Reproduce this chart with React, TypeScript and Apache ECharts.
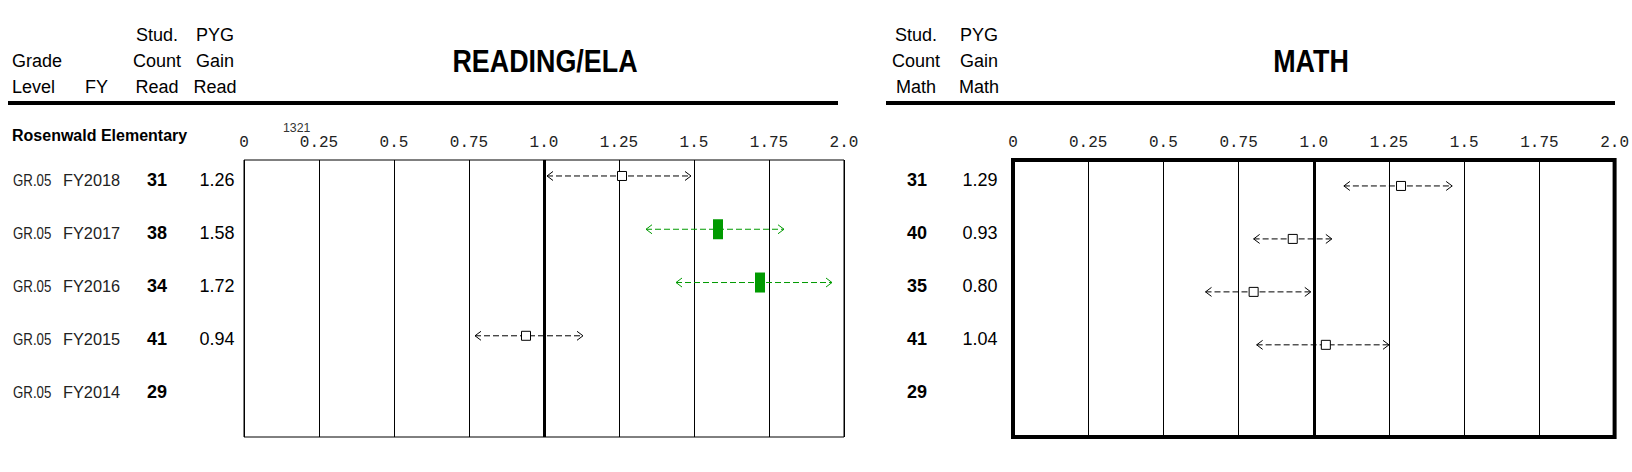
import React, { useEffect, useRef } from "react";
import * as echarts from "echarts";

// ---- data ----
const gradeLabel = "GR.05";
const fiscalYears = ["FY2018", "FY2017", "FY2016", "FY2015", "FY2014"];
const readCounts = ["31", "38", "34", "41", "29"];
const readGainText = ["1.26", "1.58", "1.72", "0.94"];
const readGain = [1.26, 1.58, 1.72, 0.94];
const readLow = [1.01, 1.34, 1.44, 0.77];
const readHigh = [1.49, 1.8, 1.96, 1.13];
const readSignificant = [0, 1, 1, 0];
const mathCounts = ["31", "40", "35", "41", "29"];
const mathGainText = ["1.29", "0.93", "0.80", "1.04"];
const mathGain = [1.29, 0.93, 0.8, 1.04];
const mathLow = [1.1, 0.8, 0.64, 0.81];
const mathHigh = [1.46, 1.06, 0.99, 1.25];
const mathSignificant = [0, 0, 0, 0];
const xTickLabels = ["0", "0.25", "0.5", "0.75", "1.0", "1.25", "1.5", "1.75", "2.0"];
const schoolName = "Rosenwald Elementary";
const stray = "1321";

const GREEN = "#009a00";
const SANS = "'Liberation Sans', Arial, sans-serif";

function renderCI(params: any, api: any) {
  const row = api.value(3);
  const lo = api.coord([api.value(0), row]);
  const pt = api.coord([api.value(1), row]);
  const hi = api.coord([api.value(2), row]);
  const sig = api.value(4) === 1;
  const color = sig ? GREEN : "#000";
  const y = lo[1];
  const children: any[] = [
    {
      type: "line",
      shape: { x1: lo[0], y1: y, x2: hi[0], y2: y },
      style: { stroke: color, lineWidth: 1, lineDash: [6, 3] },
    },
    {
      type: "polyline",
      shape: { points: [[lo[0] + 6, y - 4.5], [lo[0], y], [lo[0] + 6, y + 4.5]] },
      style: { stroke: color, lineWidth: 1, fill: null },
    },
    {
      type: "polyline",
      shape: { points: [[hi[0] - 6, y - 4.5], [hi[0], y], [hi[0] - 6, y + 4.5]] },
      style: { stroke: color, lineWidth: 1, fill: null },
    },
  ];
  if (sig) {
    children.push({
      type: "rect",
      shape: { x: pt[0] - 5, y: y - 10, width: 10, height: 20 },
      style: { fill: GREEN },
    });
  } else {
    children.push({
      type: "rect",
      shape: { x: pt[0] - 4.5, y: y - 4.5, width: 9, height: 9 },
      style: { fill: "#fff", stroke: "#000", lineWidth: 1 },
    });
  }
  return { type: "group", children };
}

function txt(text: string, x: number, y: number, opts: any = {}) {
  return {
    type: "text",
    x,
    y,
    scaleX: opts.scaleX ?? 1,
    silent: true,
    style: {
      text,
      fontFamily: opts.fontFamily ?? SANS,
      fontSize: opts.fontSize ?? 18,
      fontWeight: opts.fontWeight ?? "normal",
      fill: opts.fill ?? "#000",
      textAlign: opts.align ?? "left",
      textVerticalAlign: "middle",
    },
  };
}

function makeX(gridIndex: number) {
  return {
    type: "value",
    gridIndex,
    position: "top",
    min: 0,
    max: 2,
    interval: 0.25,
    axisLine: { show: false },
    axisTick: { show: false },
    splitLine: { show: true, lineStyle: { color: "#000", width: 1 } },
    axisLabel: {
      margin: 9,
      fontFamily: "'Liberation Mono', monospace",
      fontSize: 16,
      color: "#222",
      formatter: (v: number) => xTickLabels[Math.round(v / 0.25)],
    },
  };
}

export default function App() {
  const ref = useRef<HTMLDivElement>(null);
  useEffect(() => {
    if (!ref.current) return;
    const chart = echarts.init(ref.current, undefined, { renderer: "svg" });

    const readData = readGain.map((g, i) => [readLow[i], g, readHigh[i], i, readSignificant[i]]);
    const mathData = mathGain.map((g, i) => [mathLow[i], g, mathHigh[i], i, mathSignificant[i]]);

    const graphic: any[] = [];
    // headers
    graphic.push(txt("Grade", 12, 61));
    graphic.push(txt("Level", 12, 87));
    graphic.push(txt("FY", 85, 87));
    ["Stud.", "Count", "Read"].forEach((t, k) => graphic.push(txt(t, 157, 35 + 26 * k, { align: "center" })));
    ["PYG", "Gain", "Read"].forEach((t, k) => graphic.push(txt(t, 215, 35 + 26 * k, { align: "center" })));
    ["Stud.", "Count", "Math"].forEach((t, k) => graphic.push(txt(t, 916, 35 + 26 * k, { align: "center" })));
    ["PYG", "Gain", "Math"].forEach((t, k) => graphic.push(txt(t, 979, 35 + 26 * k, { align: "center" })));
    graphic.push(txt("READING/ELA", 545, 61, { align: "center", fontSize: 32, fontWeight: "bold", scaleX: 0.84 }));
    graphic.push(txt("MATH", 1311, 61, { align: "center", fontSize: 32, fontWeight: "bold", scaleX: 0.84 }));
    graphic.push({ type: "rect", silent: true, shape: { x: 8, y: 101, width: 830, height: 4 }, style: { fill: "#000" } });
    graphic.push({ type: "rect", silent: true, shape: { x: 886, y: 101, width: 729, height: 4 }, style: { fill: "#000" } });
    graphic.push(txt(schoolName, 12, 135, { fontSize: 16, fontWeight: "bold" }));
    graphic.push(txt(stray, 283, 128, { fontSize: 13, fill: "#333", scaleX: 0.95 }));
    // rows
    fiscalYears.forEach((fy, i) => {
      const y = 180 + 53 * i;
      graphic.push(txt(gradeLabel, 13, y, { fontSize: 17, fill: "#222", scaleX: 0.78 }));
      graphic.push(txt(fy, 63, y, { fontSize: 17, fill: "#222", scaleX: 0.96 }));
      graphic.push(txt(readCounts[i], 157, y, { align: "center", fontWeight: "bold" }));
      if (readGainText[i]) graphic.push(txt(readGainText[i], 217, y, { align: "center" }));
      graphic.push(txt(mathCounts[i], 917, y, { align: "center", fontWeight: "bold" }));
      if (mathGainText[i]) graphic.push(txt(mathGainText[i], 980, y, { align: "center" }));
    });

    const thickOne = {
      silent: true,
      symbol: "none",
      label: { show: false },
      lineStyle: { color: "#000", width: 3, type: "solid" },
      data: [{ xAxis: 1 }],
    };

    chart.setOption({
      animation: false,
      backgroundColor: "#fff",
      grid: [
        { left: 244, top: 160, width: 600, height: 277, show: true, borderColor: "#000", borderWidth: 1 },
        { left: 1013, top: 160, width: 604, height: 277, show: true, borderColor: "#000", borderWidth: 4 },
      ],
      xAxis: [makeX(0), makeX(1)],
      yAxis: [
        { type: "value", gridIndex: 0, inverse: true, min: -0.3, max: 4.9, show: false, splitLine: { show: false } },
        { type: "value", gridIndex: 1, inverse: true, min: -0.49, max: 4.74, show: false, splitLine: { show: false } },
      ],
      graphic,
      series: [
        {
          type: "custom",
          xAxisIndex: 0,
          yAxisIndex: 0,
          renderItem: renderCI,
          encode: { x: [0, 1, 2], y: 3 },
          data: readData,
          clip: false,
          markLine: thickOne,
          z: 5,
        },
        {
          type: "custom",
          xAxisIndex: 1,
          yAxisIndex: 1,
          renderItem: renderCI,
          encode: { x: [0, 1, 2], y: 3 },
          data: mathData,
          clip: false,
          markLine: thickOne,
          z: 5,
        },
      ],
    });
    return () => chart.dispose();
  }, []);
  return (
    <div
      ref={ref}
      style={{ position: "fixed", left: 0, top: 0, width: 1632, height: 472, background: "#fff" }}
    />
  );
}
